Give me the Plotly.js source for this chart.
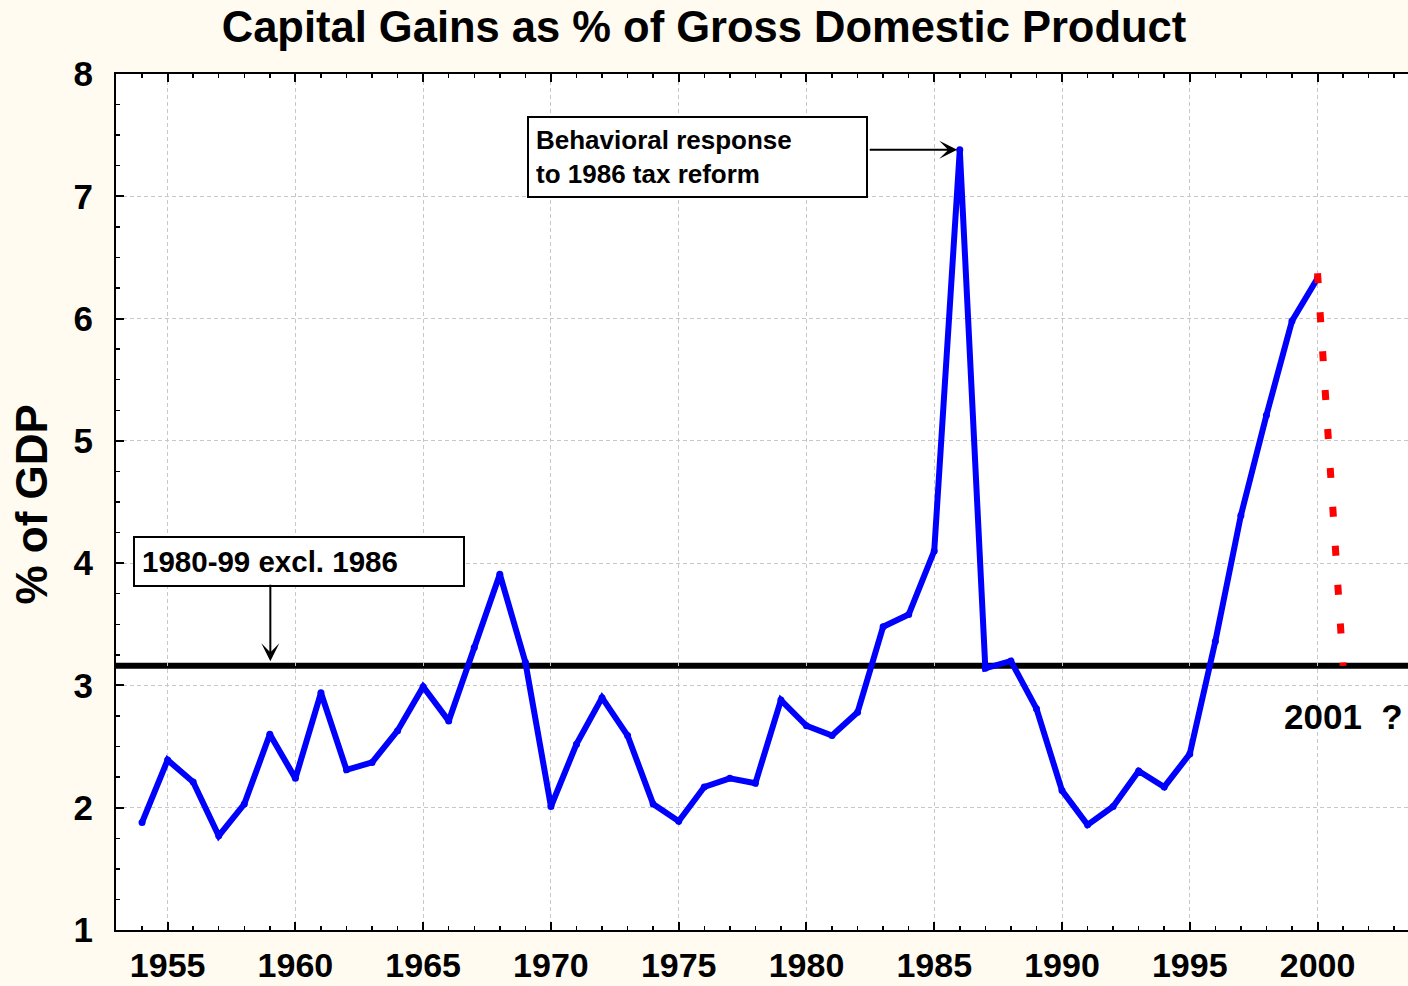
<!DOCTYPE html>
<html>
<head>
<meta charset="utf-8">
<script src="https://cdn.plot.ly/plotly-3.0.1.min.js"></script>
<style>html,body{margin:0;padding:0;background:#fffbf0;overflow:hidden}</style>
</head>
<body>
<div id="chart" style="width:1408px;height:986px"></div>
<script>
// ---- data ----
const years = [1954,1955,1956,1957,1958,1959,1960,1961,1962,1963,1964,1965,1966,1967,1968,1969,
  1970,1971,1972,1973,1974,1975,1976,1977,1978,1979,1980,1981,1982,1983,1984,1985,1986,1987,1988,1989,
  1990,1991,1992,1993,1994,1995,1996,1997,1998,1999,2000];
const gainsPct = [1.88,2.39,2.21,1.77,2.03,2.60,2.24,2.94,2.31,2.37,2.63,2.99,2.71,3.31,3.91,3.19,
  2.01,2.52,2.90,2.59,2.03,1.89,2.17,2.24,2.20,2.88,2.67,2.59,2.78,3.48,3.58,4.10,7.38,3.14,3.20,2.81,
  2.14,1.86,2.01,2.30,2.17,2.44,3.36,4.39,5.21,5.98,6.33];
const projYears = [2000, 2001];
const projPct = [6.37, 3.16];
const avgPct = 3.16;            // 1980-99 average excluding 1986
const xTickVals = [1955,1960,1965,1970,1975,1980,1985,1990,1995,2000];
const xTickText = xTickVals.map(String);
const yTickVals = [1,2,3,4,5,6,7,8];
const yTickText = yTickVals.map(String);
const titleText = 'Capital Gains as % of Gross Domestic Product';
const yTitleText = '% of GDP';
const peakNote = 'Behavioral response<br>to 1986 tax reform';
const avgNote = '1980-99 excl. 1986';
const projNote = '2001\u00a0 ?';

const traces = [
  {x: years, y: gainsPct, type: 'scatter', mode: 'lines+markers',
   line: {color: '#0000ff', width: 6}, marker: {color: '#0000ff', size: 7}, hoverinfo: 'skip'},
  {x: projYears, y: projPct, type: 'scatter', mode: 'lines',
   line: {color: '#ff0000', width: 7, dash: '10px,29px'}, hoverinfo: 'skip'}
];

const axisCommon = {
  showline: true, linewidth: 2, linecolor: '#000', mirror: 'ticks',
  ticks: 'inside', ticklen: 8, tickwidth: 2, tickcolor: '#000',
  showgrid: true, gridcolor: '#c8c8c8', gridwidth: 1, griddash: '4px,3px',
  zeroline: false, fixedrange: true
};

const layout = {
  width: 1408, height: 986,
  paper_bgcolor: '#fffbf0', plot_bgcolor: '#ffffff',
  margin: {l: 115.7, r: 0, t: 74.3, b: 55.6, pad: 0},
  font: {family: 'Liberation Sans, Arial, sans-serif', weight: 'bold', color: '#000'},
  showlegend: false,
  title: {text: titleText, font: {size: 43.5, weight: 'bold', color: '#000'},
          xref: 'container', x: 0.5, xanchor: 'center', yref: 'container', y: 0.973, yanchor: 'middle'},
  xaxis: Object.assign({}, axisCommon, {
    range: [1952.98, 2003.54], tickmode: 'array', tickvals: xTickVals, ticktext: xTickText,
    tickfont: {size: 34, weight: 'bold'}, ticklabelstandoff: 4,
    minor: {tick0: 1953, dtick: 1, ticks: 'inside', ticklen: 4, tickwidth: 1.5, tickcolor: '#000', showgrid: false}
  }),
  yaxis: Object.assign({}, axisCommon, {
    mirror: false,
    range: [1, 8], tickmode: 'array', tickvals: yTickVals, ticktext: yTickText,
    tickfont: {size: 35, weight: 'bold'}, ticklabelstandoff: 14,
    minor: {tick0: 1, dtick: 0.25, ticks: 'inside', ticklen: 4, tickwidth: 1.5, tickcolor: '#000', showgrid: false}
  }),
  shapes: [
    {type: 'line', xref: 'paper', x0: 0, x1: 1, yref: 'y', y0: avgPct, y1: avgPct,
     line: {color: '#000', width: 6}, layer: 'below'}
  ],
  annotations: [
    {text: yTitleText, xref: 'paper', yref: 'paper', x: -0.065, y: 0.497, xanchor: 'center', yanchor: 'middle',
     textangle: -90, showarrow: false, font: {size: 44, weight: 'bold'}},
    {text: peakNote, xref: 'x', yref: 'y', x: 1969.08, y: 7.66, xanchor: 'left', yanchor: 'top',
     showarrow: false, align: 'left', width: 323, bordercolor: '#000', borderwidth: 2, borderpad: 7,
     bgcolor: '#ffffff', font: {size: 26, weight: 'bold'}},
    {text: '', xref: 'x', yref: 'y', x: 1985.9, y: 7.38, axref: 'pixel', ayref: 'pixel', ax: -89, ay: 0,
     showarrow: true, arrowhead: 3, arrowsize: 1.5, arrowwidth: 2, arrowcolor: '#000'},
    {text: avgNote, xref: 'x', yref: 'y', x: 1953.63, y: 4.219, xanchor: 'left', yanchor: 'top',
     showarrow: false, align: 'left', width: 314, bordercolor: '#000', borderwidth: 2, borderpad: 7,
     bgcolor: '#ffffff', font: {size: 29.5, weight: 'bold'}},
    {text: '', xref: 'x', yref: 'y', x: 1959.02, y: 3.197, axref: 'pixel', ayref: 'pixel', ax: 0, ay: -78,
     showarrow: true, arrowhead: 3, arrowsize: 1.5, arrowwidth: 2, arrowcolor: '#000'},
    {text: projNote, xref: 'x', yref: 'y', x: 2001.03, y: 2.747, xanchor: 'center', yanchor: 'middle',
     showarrow: false, font: {size: 35, weight: 'bold'}}
  ]
};

Plotly.newPlot('chart', traces, layout, {staticPlot: true, displayModeBar: false});
</script>
</body>
</html>
